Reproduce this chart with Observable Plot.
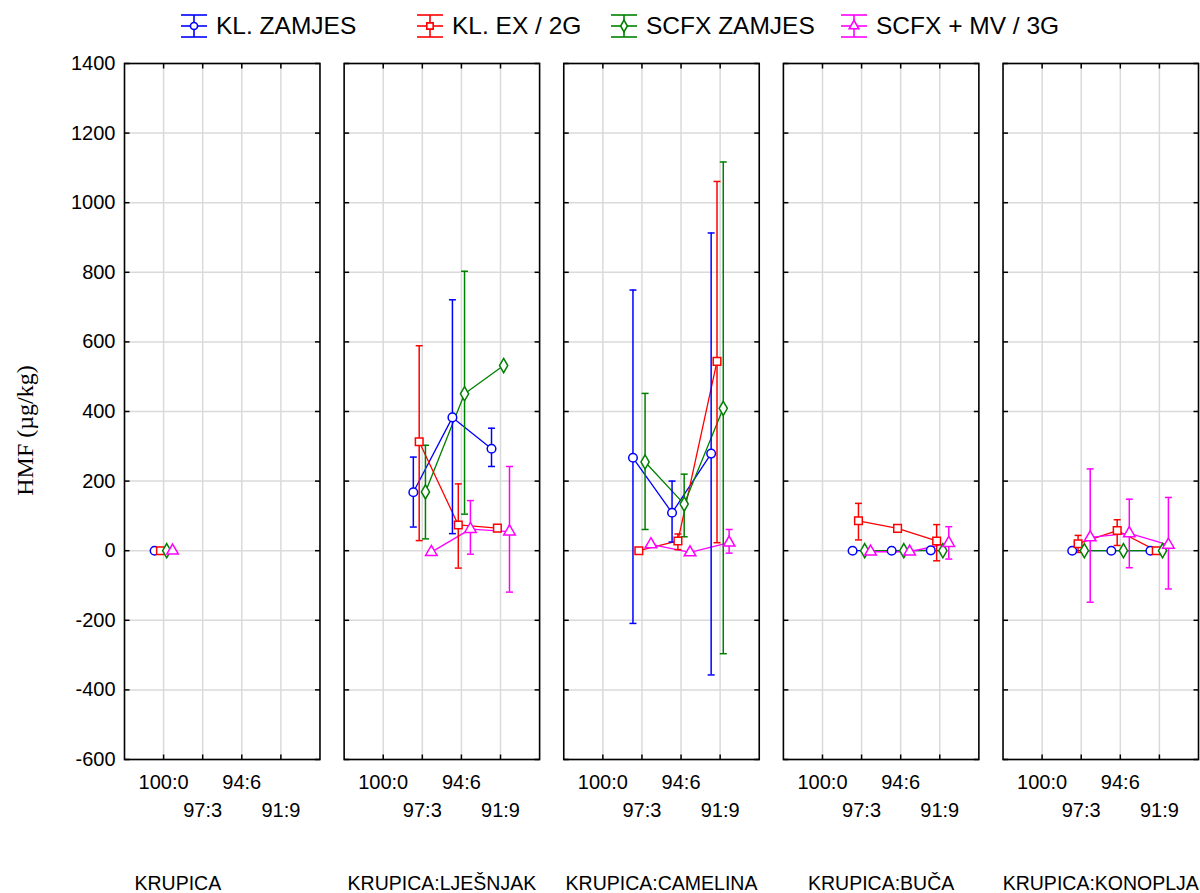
<!DOCTYPE html>
<html><head><meta charset="utf-8">
<script src="https://cdn.jsdelivr.net/npm/d3@7"></script>
<script src="https://cdn.jsdelivr.net/npm/@observablehq/plot@0.6"></script>
<style>
body{margin:0;background:#fff;font-family:"Liberation Sans",Arial,sans-serif;}
#legend{position:relative;height:48px;width:1200px;}
.item{position:absolute;top:0;height:52px;display:flex;align-items:center;font-size:24.5px;color:#000;white-space:nowrap;}
.item svg{margin-right:8px;overflow:visible}
</style></head><body>
<div id="legend"></div><div id="chart"></div>
<script>
// ---- data ----
const panels = ["KRUPICA", "KRUPICA:LJEŠNJAK", "KRUPICA:CAMELINA", "KRUPICA:BUČA", "KRUPICA:KONOPLJA"];
const ratios = ["100:0", "97:3", "94:6", "91:9"];
const seriesNames = ["KL. ZAMJES", "KL. EX / 2G", "SCFX ZAMJES", "SCFX + MV / 3G"];
const seriesColors = ["#0000ff", "#ff0000", "#008000", "#ff00ff"];
const yTicks = [-600, -400, -200, 0, 200, 400, 600, 800, 1000, 1200, 1400];
const yLabel = "HMF (µg/kg)";
const n = null;
// [panel][ratio]
const klZamjesMean = [[0, n, n, n], [n, 168, 383, 293], [n, 267, 109, 279], [n, 0, 0, 1], [n, 0, 0, 0]];
const klZamjesLo   = [[0, n, n, n], [n, 68, 49, 242], [n, -209, 25, -357], [n, 0, 0, 0], [n, 0, 0, 0]];
const klZamjesHi   = [[0, n, n, n], [n, 269, 721, 352], [n, 749, 200, 913], [n, 0, 0, 2], [n, 0, 0, 0]];
const klExMean = [[0, n, n, n], [n, 313, 74, 65], [n, 0, 28, 544], [n, 86, 64, 28], [n, 20, 58, 0]];
const klExLo   = [[0, n, n, n], [n, 29, -50, 60], [n, -4, 3, 23], [n, 31, 57, -29], [n, -5, 15, -3]];
const klExHi   = [[0, n, n, n], [n, 589, 192, 70], [n, 4, 48, 1061], [n, 136, 71, 75], [n, 44, 89, 3]];
const scfxZamjesMean = [[0, n, n, n], [n, 169, 451, 532], [n, 255, 134, 409], [n, 0, 0, 0], [n, 0, 0, 0]];
const scfxZamjesLo   = [[0, n, n, n], [n, 34, 105, 528], [n, 61, 40, -296], [n, 0, 0, 0], [n, 0, 0, 0]];
const scfxZamjesHi   = [[0, n, n, n], [n, 303, 803, 536], [n, 452, 220, 1117], [n, 0, 0, 0], [n, 0, 0, 0]];
const scfxMvMean = [[0, n, n, n], [n, -4, 62, 55], [n, 18, -5, 23], [n, -3, -3, 22], [n, 38, 50, 17]];
const scfxMvLo   = [[0, n, n, n], [n, -6, -10, -119], [n, 16, -7, -7], [n, -4, -4, -24], [n, -148, -49, -110]];
const scfxMvHi   = [[0, n, n, n], [n, -2, 144, 242], [n, 20, -3, 61], [n, -2, -2, 69], [n, 235, 148, 153]];

// ---- build table ----
const seriesData = [
  [klZamjesMean, klZamjesLo, klZamjesHi],
  [klExMean, klExLo, klExHi],
  [scfxZamjesMean, scfxZamjesLo, scfxZamjesHi],
  [scfxMvMean, scfxMvLo, scfxMvHi]
];
const rows = [];
seriesData.forEach(([m, lo, hi], s) => {
  panels.forEach((p, pi) => {
    ratios.forEach((r, ri) => {
      if (m[pi][ri] != null) rows.push({series: seriesNames[s], s, panel: p, k: ri + 1, mean: m[pi][ri], lo: lo[pi][ri], hi: hi[pi][ri]});
    });
  });
});
const dodge = [-0.23, -0.08, 0.08, 0.23];
const xOf = d => d.k + dodge[d.s];

const capSym = {draw(ctx, size) { const w = Math.sqrt(size / Math.PI); ctx.moveTo(-w, 0); ctx.lineTo(w, 0); }};
const tickInR = {draw(ctx) { ctx.moveTo(0, 0); ctx.lineTo(5, 0); }};
const tickInL = {draw(ctx) { ctx.moveTo(0, 0); ctx.lineTo(-5, 0); }};
const tickInU = {draw(ctx) { ctx.moveTo(0, 0); ctx.lineTo(0, -5); }};
const tickInD = {draw(ctx) { ctx.moveTo(0, 0); ctx.lineTo(0, 5); }};
const catPos = ratios.map((r, i) => i + 1);

const chart = Plot.plot({
  width: 1200, height: 845,
  marginTop: 15, marginBottom: 134, marginLeft: 124, marginRight: 2,
  style: {fontFamily: '"Liberation Sans", Arial, sans-serif', background: "white"},
  fx: {domain: panels, paddingInner: 0.11, paddingOuter: 0, round: false, axis: null, label: null},
  x: {domain: [0, 5], axis: null},
  y: {domain: [-600, 1400], axis: null},
  color: {domain: seriesNames, range: seriesColors},
  symbol: {domain: seriesNames, range: ["circle", "square", "diamond", "triangle"]},
  marks: [
    Plot.gridY(yTicks, {stroke: "#dadada", strokeOpacity: 1, strokeWidth: 1.5}),
    Plot.gridX(catPos, {stroke: "#dadada", strokeOpacity: 1, strokeWidth: 1.5}),
    Plot.frame({stroke: "black", strokeWidth: 1.6}),
    Plot.dot(yTicks, {x: 0, y: d => d, symbol: tickInR, stroke: "black", fill: "none", strokeWidth: 1.5}),
    Plot.dot(yTicks, {x: 5, y: d => d, symbol: tickInL, stroke: "black", fill: "none", strokeWidth: 1.5}),
    Plot.dot(catPos, {x: d => d, y: -600, symbol: tickInU, stroke: "black", fill: "none", strokeWidth: 1.5}),
    Plot.dot(catPos, {x: d => d, y: 1400, symbol: tickInD, stroke: "black", fill: "none", strokeWidth: 1.5}),
    // y tick labels on first panel
    Plot.text(yTicks, {fx: () => panels[0], y: d => d, frameAnchor: "left", dx: -9, textAnchor: "end", text: d => String(d), fontSize: 20, fill: "black"}),
    // y label
    Plot.text([yLabel], {fx: () => panels[0], frameAnchor: "left", dx: -99, dy: 19, rotate: -90, textAnchor: "middle", text: d => d, fontSize: 24, fontFamily: '"Liberation Serif", "Times New Roman", serif', fill: "black"}),
    // x tick labels, two rows
    Plot.text(catPos.filter(d => d % 2 === 1), {x: d => d, frameAnchor: "bottom", dy: 23, lineAnchor: "middle", text: d => ratios[d - 1], fontSize: 20, fill: "black"}),
    Plot.text(catPos.filter(d => d % 2 === 0), {x: d => d, frameAnchor: "bottom", dy: 51, lineAnchor: "middle", text: d => ratios[d - 1], fontSize: 20, fill: "black"}),
    // panel titles
    Plot.text(panels.slice(1), {fx: d => d, frameAnchor: "bottom", dy: 124, lineAnchor: "middle", text: d => d, fontSize: 19.5, fill: "black"}),
    Plot.text(panels.slice(0, 1), {fx: d => d, frameAnchor: "bottom-left", dx: 10, dy: 124, textAnchor: "start", lineAnchor: "middle", text: d => d, fontSize: 19.5, fill: "black"}),
    // data
    Plot.line(rows, {fx: "panel", x: xOf, y: "mean", z: "series", stroke: "series", strokeWidth: 1.3}),
    Plot.ruleX(rows, {fx: "panel", x: xOf, y1: "lo", y2: "hi", stroke: "series", strokeWidth: 1.5}),
    Plot.dot(rows, {fx: "panel", x: xOf, y: "hi", symbol: capSym, r: 3.5, stroke: "series", fill: "none", strokeWidth: 1.5}),
    Plot.dot(rows, {fx: "panel", x: xOf, y: "lo", symbol: capSym, r: 3.5, stroke: "series", fill: "none", strokeWidth: 1.5}),
    Plot.dot(rows, {fx: "panel", x: xOf, y: "mean", symbol: "series", r: 4.3, stroke: "series", fill: "white", strokeWidth: 1.5})
  ]
});
document.getElementById("chart").appendChild(chart);

// ---- legend ----
const legendLeft = [180, 416, 610, 840];
const symTypes = [d3.symbolCircle, d3.symbolSquare, d3.symbolDiamond, d3.symbolTriangle];
const legend = d3.select("#legend");
seriesNames.forEach((name, i) => {
  const item = legend.append("div").attr("class", "item").style("left", legendLeft[i] + "px");
  const svg = item.append("svg").attr("width", 28).attr("height", 26);
  const g = svg.append("g").attr("stroke", seriesColors[i]).attr("stroke-width", 1.6).attr("fill", "none");
  g.append("line").attr("x1", 1).attr("x2", 27).attr("y1", 2).attr("y2", 2);
  g.append("line").attr("x1", 1).attr("x2", 27).attr("y1", 24).attr("y2", 24);
  g.append("line").attr("x1", 1).attr("x2", 27).attr("y1", 13).attr("y2", 13);
  g.append("line").attr("x1", 14).attr("x2", 14).attr("y1", 2).attr("y2", 24);
  g.append("path").attr("transform", "translate(14,13)").attr("fill", "white").attr("d", d3.symbol(symTypes[i], 40)());
  item.append("span").text(name);
});
</script></body></html>
